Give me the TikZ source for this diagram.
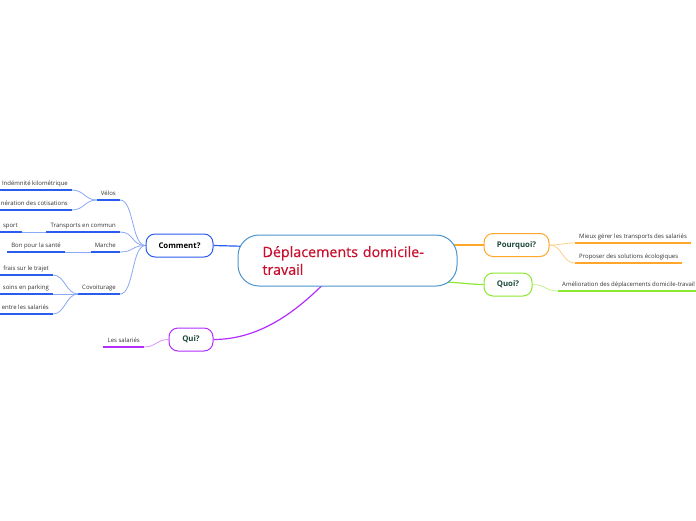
\documentclass[tikz,border=0pt]{standalone}
\usepackage{fontspec}
\setmainfont{Open Sans}
\newfontfamily\titlefont[FakeBold=0.5]{Open Sans}
\usepackage{tikz}
\usetikzlibrary{backgrounds}
\definecolor{mmBlue}{HTML}{2A5CF0}
\definecolor{mmBlueLt}{HTML}{8AA8F8}
\definecolor{mmOrange}{HTML}{FFA62B}
\definecolor{mmOrangeLt}{HTML}{FFD08A}
\definecolor{mmGreen}{HTML}{8CE830}
\definecolor{mmGreenLt}{HTML}{C4F290}
\definecolor{mmPurple}{HTML}{B32EFF}
\definecolor{mmPurpleLt}{HTML}{DC95FF}
\definecolor{mmCore}{HTML}{4B94CF}
\definecolor{mmTitle}{HTML}{C8102E}
\definecolor{mmInk}{HTML}{1E4A3A}
\definecolor{mmLeaf}{HTML}{333333}

\begin{document}
\begin{tikzpicture}[x=1pt, y=-1pt,
  core/.style={draw=mmCore, line width=1pt, rounded corners=21pt, fill=white,
               minimum width=219pt, minimum height=51pt, text width=170pt, align=left,
               text=mmTitle, font=\titlefont\fontsize{14.3}{17.7}\selectfont},
  topic/.style={draw=#1, line width=1pt, rounded corners=9pt, fill=white, minimum height=23pt,
                inner sep=0pt, text=mmInk, font=\bfseries\fontsize{7.8}{9}\selectfont},
  leaf/.style={font=\fontsize{6}{7}\selectfont, text=mmLeaf, inner xsep=4pt, inner ysep=3.5pt,
               text height=4.5pt, text depth=1.2pt,
               append after command={(\tikzlastnode.south west) edge[draw=#1, line width=1.6pt] (\tikzlastnode.south east)}},
  branch/.style={draw=#1, line width=1.2pt},
  twig/.style={draw=#1, line width=0.8pt},
]
  \useasboundingbox (0,0) rectangle (696,520);

  \node[core] (core) at (347.5,260.5) {Déplacements domicile-\\travail};

  \node[topic=mmBlue, minimum width=67pt, text=black] (comment) at (179.5,245.5) {Comment?};
  \node[topic=mmOrange, minimum width=65pt] (pourquoi) at (516.5,245) {Pourquoi?};
  \node[topic=mmGreen, minimum width=48pt] (quoi) at (508,284.5) {Quoi?};
  \node[topic=mmPurple, minimum width=44pt] (qui) at (191,339.5) {Qui?};

  % Comment?
  \node[leaf=mmBlue, anchor=south east] (velos) at (120,200) {Vélos};
  \node[leaf=mmBlue, anchor=south east] (indemnite) at (72,190) {Indémnité kilométrique};
  \node[leaf=mmBlue, anchor=south east] (cotisations) at (72,210) {nération des cotisations};
  \node[leaf=mmBlue, anchor=south east] (transports) at (120,232) {Transports en commun};
  \node[leaf=mmBlue, anchor=south east] (sport) at (22,232) {sport};
  \node[leaf=mmBlue, anchor=south east] (marche) at (120,252) {Marche};
  \node[leaf=mmBlue, anchor=south east] (sante) at (65,252) {Bon pour la santé};
  \node[leaf=mmBlue, anchor=south east] (covoit) at (120,294) {Covoiturage};
  \node[leaf=mmBlue, anchor=south east] (frais) at (53,275) {frais sur le trajet};
  \node[leaf=mmBlue, anchor=south east] (parking) at (53,294) {soins en parking};
  \node[leaf=mmBlue, anchor=south east] (liens) at (53,314) {entre les salariés};

  % Qui? / Pourquoi? / Quoi?
  \node[leaf=mmPurple, anchor=south east] (salaries) at (144,347) {Les salariés};
  \node[leaf=mmOrange, anchor=south west] (mieux) at (575,243) {Mieux gérer les transports des salariés};
  \node[leaf=mmOrange, anchor=south west] (proposer) at (575,263) {Proposer des solutions écologiques};
  \node[leaf=mmGreen, anchor=south west] (amelioration) at (558,291) {Amélioration des déplacements domicile-travail};

  \begin{scope}[on background layer]
    \fill[white] (0,0) rectangle (696,520);
    \draw[branch=mmBlue] (comment.east) -- ([xshift=15pt,yshift=14pt]core.west);
    \draw[branch=mmOrange] (pourquoi.west) -- ([xshift=-15pt,yshift=15.5pt]core.east);
    \draw[branch=mmGreen] (quoi.west) .. controls +(-12,0) and +(12,0) .. ([xshift=-15pt,yshift=-21.5pt]core.east);
    \draw[branch=mmPurple] (qui.east) .. controls +(50,0) and +(-25,25) .. ([xshift=-21.5pt,yshift=5pt]core.south);

    \foreach \leafnode in {velos,transports,marche,covoit}
      \draw[twig=mmBlueLt] (comment.west) .. controls +(-14,0) and +(14,0) .. (\leafnode.south east);
    \foreach \leafnode in {indemnite,cotisations}
      \draw[twig=mmBlueLt] (velos.south west) .. controls +(-12,0) and +(12,0) .. (\leafnode.south east);
    \draw[twig=mmBlueLt] (transports.south west) -- (sport.south east);
    \draw[twig=mmBlueLt] (marche.south west) -- (sante.south east);
    \foreach \leafnode in {frais,parking,liens}
      \draw[twig=mmBlueLt] (covoit.south west) .. controls +(-12,0) and +(12,0) .. (\leafnode.south east);
    \draw[twig=mmPurpleLt] (qui.west) .. controls +(-12,0) and +(12,0) .. (salaries.south east);
    \foreach \leafnode in {mieux,proposer}
      \draw[twig=mmOrangeLt] (pourquoi.east) .. controls +(13,0) and +(-13,0) .. (\leafnode.south west);
    \draw[twig=mmGreenLt] (quoi.east) .. controls +(13,0) and +(-13,0) .. (amelioration.south west);
  \end{scope}
\end{tikzpicture}
\end{document}
